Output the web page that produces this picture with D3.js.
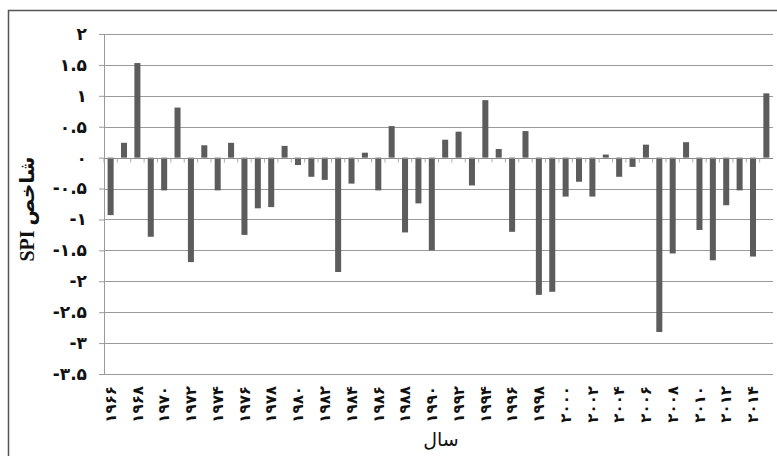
<!DOCTYPE html>
<html>
<head>
<meta charset="utf-8">
<script src="https://cdn.jsdelivr.net/npm/d3@7"></script>
<style>
  html, body { margin: 0; padding: 0; background: #fff; }
  svg { display: block; }
</style>
</head>
<body>
<svg id="chart" width="777" height="456"></svg>
<script>
// Annual SPI (Standardized Precipitation Index), 1966–2015
const years = d3.range(1966, 2016);
const spiValues = [
  -0.93, 0.24, 1.53, -1.28, -0.53, 0.81, -1.69, 0.20, -0.53, 0.24,
  -1.25, -0.82, -0.80, 0.19, -0.12, -0.31, -0.36, -1.85, -0.42, 0.08,
  -0.53, 0.51, -1.21, -0.74, -1.50, 0.29, 0.42, -0.45, 0.93, 0.14,
  -1.20, 0.43, -2.22, -2.17, -0.63, -0.39, -0.63, 0.05, -0.31, -0.15,
  0.21, -2.82, -1.55, 0.25, -1.17, -1.66, -0.77, -0.53, -1.60, 1.04
];
const yTicks = [-3.5, -3, -2.5, -2, -1.5, -1, -0.5, 0, 0.5, 1, 1.5, 2];
const xLabelYears = d3.range(1966, 2015, 2);
const yTitle = "شاخص SPI";
const xTitle = "سال";

const faDigits = "۰۱۲۳۴۵۶۷۸۹";
const toFa = s => String(s).replace(/[0-9]/g, d => faDigits[+d]).replace("−", "-");

const svg = d3.select("#chart");
const plotLeft = 104, plotRight = 773, plotTop = 34, plotBottom = 374;

const x = d3.scaleBand().domain(years).range([plotLeft, plotRight]).paddingInner(0.55).paddingOuter(0.27);
const y = d3.scaleLinear().domain([-3.5, 2]).range([plotBottom, plotTop]);

// outer frame
svg.append("rect")
  .attr("x", 8.5).attr("y", 10.5)
  .attr("width", 800).attr("height", 500)
  .attr("fill", "none").attr("stroke", "#555").attr("stroke-width", 1.5);

// horizontal gridlines
svg.append("g")
  .selectAll("line").data(yTicks).join("line")
  .attr("x1", plotLeft).attr("x2", plotRight)
  .attr("y1", d => Math.round(y(d)) + 0.5).attr("y2", d => Math.round(y(d)) + 0.5)
  .attr("stroke", "#9a9a9a").attr("stroke-width", 1);

// y axis
const yAxis = svg.append("g")
  .attr("transform", `translate(${plotLeft},0)`)
  .call(d3.axisLeft(y).tickValues(yTicks).tickSize(5).tickPadding(12)
    .tickFormat(d => toFa(d3.format(".1~f")(d))));
yAxis.select(".domain").attr("stroke", "#9a9a9a");
yAxis.selectAll(".tick line").attr("stroke", "#9a9a9a");
yAxis.selectAll("text")
  .attr("fill", "#111")
  .style("font-family", "'DejaVu Sans', sans-serif")
  .style("font-weight", "bold")
  .style("font-size", "17px")
  .attr("direction", "ltr");

// bars
svg.append("g")
  .selectAll("rect").data(years).join("rect")
  .attr("x", d => x(d))
  .attr("width", x.bandwidth())
  .attr("y", (d, i) => y(Math.max(0, spiValues[i])))
  .attr("height", (d, i) => Math.abs(y(spiValues[i]) - y(0)))
  .attr("fill", "#5c5c5c");

// zero line with category tick marks
const y0 = Math.round(y(0)) + 0.5;
svg.append("line")
  .attr("x1", plotLeft).attr("x2", plotRight).attr("y1", y0).attr("y2", y0)
  .attr("stroke", "#8a8a8a");
const halfGap = (x.step() - x.bandwidth()) / 2;
svg.append("g")
  .selectAll("line").data(years).join("line")
  .attr("x1", d => x(d) - halfGap).attr("x2", d => x(d) - halfGap)
  .attr("y1", y0).attr("y2", y0 + 4)
  .attr("stroke", "#aaa");

// year labels (rotated)
const xAxis = svg.append("g")
  .attr("transform", `translate(0,${plotBottom + 12})`)
  .call(d3.axisBottom(x).tickValues(xLabelYears).tickSize(0).tickFormat(d => toFa(d)));
xAxis.select(".domain").remove();
xAxis.selectAll("text")
  .attr("transform", "rotate(-90)")
  .attr("x", 0).attr("y", 0).attr("dy", "0.35em")
  .attr("text-anchor", "end")
  .attr("fill", "#111")
  .style("font-family", "'DejaVu Sans', sans-serif")
  .style("font-weight", "bold")
  .style("font-size", "15px");

// axis titles
svg.append("text")
  .attr("transform", `translate(34,209) rotate(-90)`)
  .attr("text-anchor", "middle")
  .attr("direction", "rtl")
  .attr("fill", "#111")
  .style("font-family", "'Liberation Serif', 'DejaVu Sans', serif")
  .style("font-weight", "bold")
  .style("font-size", "20px")
  .text(yTitle);

svg.append("text")
  .attr("x", 441).attr("y", 446)
  .attr("text-anchor", "middle")
  .attr("fill", "#111")
  .style("font-family", "'DejaVu Sans', sans-serif")
  .style("font-size", "19px")
  .text(xTitle);
</script>
</body>
</html>
